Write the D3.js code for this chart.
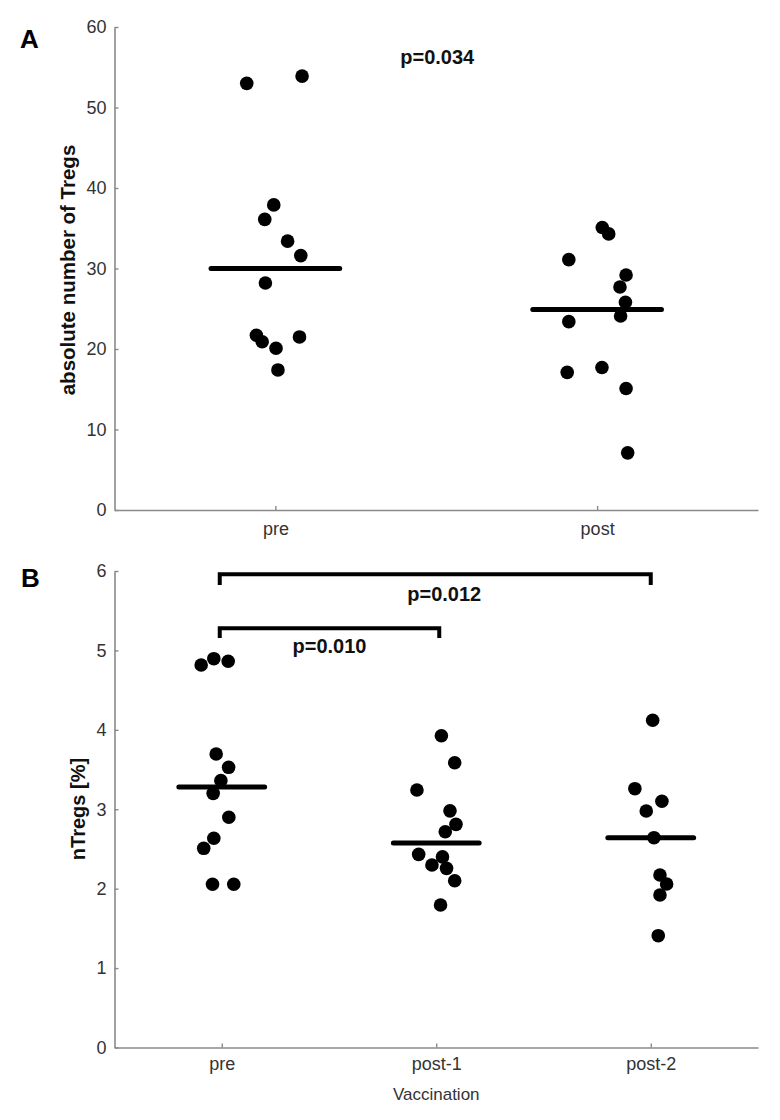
<!DOCTYPE html>
<html>
<head>
<meta charset="utf-8">
<script src="https://cdn.jsdelivr.net/npm/d3@7"></script>
<style>
  html, body { margin: 0; padding: 0; background: #fff; }
  svg { display: block; font-family: "Liberation Sans", Arial, Helvetica, sans-serif; }
</style>
</head>
<body>
<svg id="chart" width="780" height="1120"></svg>
<script>
// ---------- Panel A data ----------
const groupsA = ["pre", "post"];
const preA        = [53.0, 53.9, 37.9, 36.1, 33.4, 31.6, 28.2, 21.7, 20.9, 20.1, 21.5, 17.4];
const preAJitter  = [-0.089, 0.083, -0.005, -0.033, 0.038, 0.079, -0.031, -0.059, -0.041, 0.002, 0.075, 0.008];
const postA       = [35.1, 34.3, 31.1, 29.2, 27.7, 25.8, 24.1, 23.4, 17.1, 17.7, 15.1, 7.1];
const postAJitter = [0.016, 0.036, -0.088, 0.090, 0.071, 0.088, 0.073, -0.088, -0.093, 0.015, 0.090, 0.095];
const mediansA = [30.0, 24.9];
const ticksA = [0, 10, 20, 30, 40, 50, 60];
const pTextA = "p=0.034";

// ---------- Panel B data ----------
const groupsB = ["pre", "post-1", "post-2"];
const preB         = [4.816, 4.896, 4.863, 3.695, 3.528, 3.36, 3.20, 2.90, 2.634, 2.508, 2.055, 2.055];
const preBJitter   = [-0.096, -0.037, 0.030, -0.026, 0.032, -0.004, -0.040, 0.033, -0.037, -0.084, -0.043, 0.056];
const post1B       = [3.926, 3.586, 3.242, 2.98, 2.81, 2.717, 2.432, 2.40, 2.298, 2.256, 2.10, 1.794];
const post1BJitter = [0.024, 0.086, -0.090, 0.064, 0.092, 0.042, -0.082, 0.029, -0.020, 0.048, 0.086, 0.020];
const post2B       = [4.12, 3.259, 3.10, 2.978, 2.642, 2.172, 2.059, 1.92, 1.408];
const post2BJitter = [0.009, -0.074, 0.052, -0.021, 0.015, 0.043, 0.074, 0.043, 0.035];
const mediansB = [3.28, 2.575, 2.64];
const ticksB = [0, 1, 2, 3, 4, 5, 6];
// brackets: [from group, to group, bar level, leg end level, label, label level]
const bracketFrom   = [1, 1];
const bracketTo     = [3, 2];
const bracketLevel  = [5.958, 5.278];
const bracketLegEnd = [5.824, 5.156];
const bracketLabels = ["p=0.012", "p=0.010"];
const bracketLabelLevel = [5.62, 4.967];

// ---------- drawing ----------
const svg = d3.select("#chart");
svg.append("rect").attr("width", 780).attr("height", 1120).attr("fill", "#fff");

const axisColor = "#8a8a8a";
const tickTextColor = "#333";
const R = 6.8;

function styleAxis(g) {
  g.select(".domain").attr("stroke", axisColor).attr("stroke-width", 1.6);
  g.selectAll(".tick line").attr("stroke", axisColor).attr("stroke-width", 1.4);
  g.selectAll(".tick text").attr("fill", tickTextColor).attr("font-size", 18);
}

function drawPanel(opts) {
  const { x, y, groups, yTicks, series, medians, xPad } = opts;
  const g = svg.append("g");

  // axes
  const ya = g.append("g").attr("transform", `translate(${x.range()[0]},0)`)
    .call(d3.axisLeft(y).tickValues(yTicks).tickFormat(d3.format("d"))
      .tickSizeInner(-4).tickSizeOuter(0).tickPadding(8));
  styleAxis(ya);
  const xa = g.append("g").attr("transform", `translate(0,${y.range()[0]})`)
    .call(d3.axisBottom(x).tickValues(groups.map((d, i) => i + 1))
      .tickFormat(i => groups[i - 1]).tickSizeInner(-4).tickSizeOuter(0).tickPadding(xPad));
  styleAxis(xa);

  // points
  series.forEach((s, gi) => {
    g.append("g").selectAll("circle").data(s.values).join("circle")
      .attr("cx", (d, i) => x(gi + 1 + s.jitter[i]))
      .attr("cy", d => y(d))
      .attr("r", R)
      .attr("fill", "#000");
  });

  // medians
  g.append("g").selectAll("line").data(medians).join("line")
    .attr("x1", (d, i) => x(i + 1 - 0.2))
    .attr("x2", (d, i) => x(i + 1 + 0.2))
    .attr("y1", d => y(d)).attr("y2", d => y(d))
    .attr("stroke", "#000").attr("stroke-width", 5).attr("stroke-linecap", "round");
  return g;
}

// Panel A
const xA = d3.scaleLinear().domain([0.5, 2.5]).range([114.5, 758]);
const yA = d3.scaleLinear().domain([0, 60]).range([510, 27]);
drawPanel({
  x: xA, y: yA, groups: groupsA, yTicks: ticksA, xPad: 12,
  series: [{ values: preA, jitter: preAJitter }, { values: postA, jitter: postAJitter }],
  medians: mediansA
});
svg.append("text").attr("x", 20).attr("y", 48).attr("font-size", 26).attr("font-weight", "bold").text("A");
svg.append("text").attr("transform", `translate(75,270) rotate(-90)`)
  .attr("text-anchor", "middle").attr("font-size", 20.5).attr("font-weight", "bold").attr("fill", "#111")
  .text("absolute number of Tregs");
svg.append("text").attr("x", xA(1.5) + 1).attr("y", yA(55.4)).attr("text-anchor", "middle")
  .attr("font-size", 20).attr("font-weight", "bold").attr("fill", "#111").text(pTextA);

// Panel B
const xB = d3.scaleLinear().domain([0.5, 3.5]).range([114.5, 758]);
const yB = d3.scaleLinear().domain([0, 6]).range([1047.5, 571]);
drawPanel({
  x: xB, y: yB, groups: groupsB, yTicks: ticksB, xPad: 10,
  series: [
    { values: preB, jitter: preBJitter },
    { values: post1B, jitter: post1BJitter },
    { values: post2B, jitter: post2BJitter }
  ],
  medians: mediansB
});
svg.append("text").attr("x", 21).attr("y", 587).attr("font-size", 26).attr("font-weight", "bold").text("B");
svg.append("text").attr("transform", `translate(85,809) rotate(-90)`)
  .attr("text-anchor", "middle").attr("font-size", 20).attr("font-weight", "bold").attr("fill", "#111")
  .text("nTregs [%]");
svg.append("text").attr("x", xB(2)).attr("y", 1100).attr("text-anchor", "middle")
  .attr("font-size", 17).attr("fill", tickTextColor).text("Vaccination");

// brackets
const bg = svg.append("g");
bracketFrom.forEach((f, i) => {
  const x1 = xB(f) - 2, x2 = xB(bracketTo[i]) + (bracketTo[i] === 2 ? 3 : 0);
  const yb = yB(bracketLevel[i]), yl = yB(bracketLegEnd[i]);
  bg.append("path")
    .attr("d", `M${x1},${yl} V${yb} H${x2} V${yl}`)
    .attr("fill", "none").attr("stroke", "#000").attr("stroke-width", 4).attr("stroke-linejoin", "miter");
  const labelOffset = i === 0 ? 9 : 0;
  bg.append("text").attr("x", (x1 + x2) / 2 + labelOffset).attr("y", yB(bracketLabelLevel[i]))
    .attr("text-anchor", "middle").attr("font-size", 20).attr("font-weight", "bold").attr("fill", "#111")
    .text(bracketLabels[i]);
});
</script>
</body>
</html>
